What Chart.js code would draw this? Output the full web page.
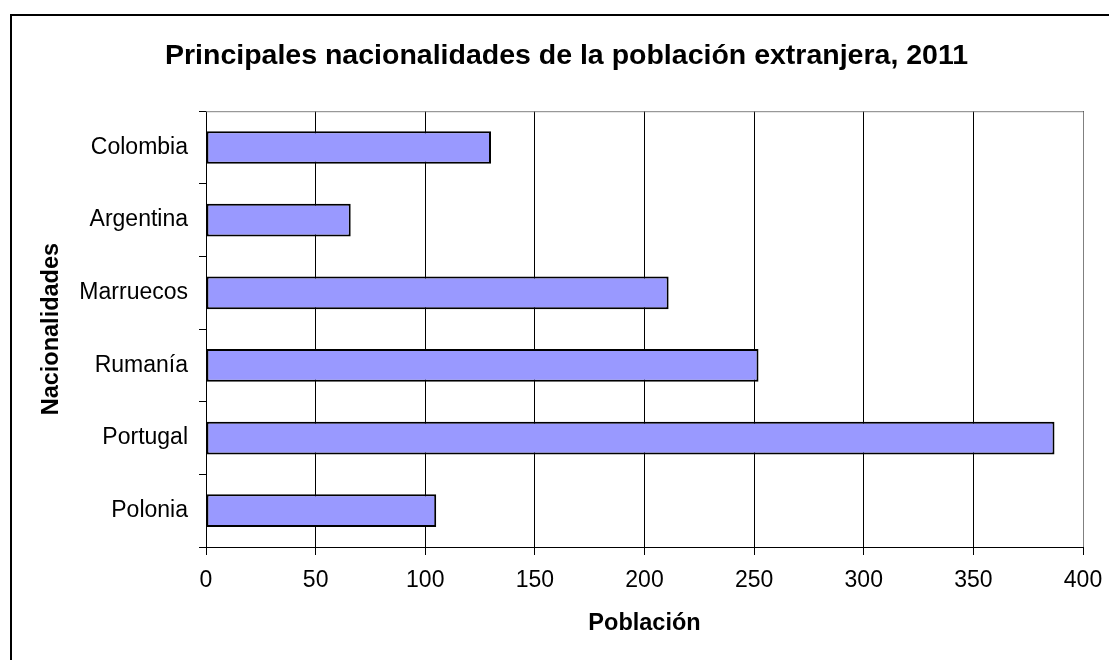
<!DOCTYPE html>
<html>
<head>
<meta charset="utf-8">
<script src="https://cdn.jsdelivr.net/npm/chart.js@4.4.1/dist/chart.umd.min.js"></script>
<style>
  html, body { margin: 0; padding: 0; background: #fff; }
  canvas { display: block; }
</style>
</head>
<body>
<canvas id="chart" width="1109" height="660"></canvas>
<script>
// data, top bar first
const nacionalidades = ['Colombia', 'Argentina', 'Marruecos', 'Rumanía', 'Portugal', 'Polonia'];
const poblacion = [130, 66, 211, 252, 387, 105];
const xMin = 0;
const xMax = 400;
const xStep = 50;
const titulo = 'Principales nacionalidades de la población extranjera, 2011';
const tituloX = 'Población';
const tituloY = 'Nacionalidades';

const FONT = "'Liberation Sans', Arial, sans-serif";

// outer chart frame + grey top/right edge of plot area
const frame = {
  id: 'frame',
  beforeDraw(chart) {
    const c = chart.ctx;
    c.save();
    c.fillStyle = '#fff';
    c.fillRect(0, 0, chart.width, chart.height);
    c.strokeStyle = '#000';
    c.lineWidth = 2;
    c.strokeRect(11, 15, chart.width + 20, chart.height + 20);
    c.restore();
  },
  beforeDatasetsDraw(chart) {
    const {ctx: c, chartArea: a} = chart;
    c.save();
    c.strokeStyle = '#808080';
    c.lineWidth = 1;
    c.beginPath();
    c.moveTo(a.left, a.top + 0.5);
    c.lineTo(a.right + 0.5, a.top + 0.5);
    c.lineTo(a.right + 0.5, a.bottom);
    c.stroke();
    c.restore();
  }
};

const chart = new Chart(document.getElementById('chart').getContext('2d'), {
  type: 'bar',
  data: {
    labels: nacionalidades,
    datasets: [{
      label: tituloX,
      data: poblacion,
      backgroundColor: '#9999FF',
      borderColor: '#000',
      borderWidth: 2,
      borderSkipped: false,
      barPercentage: 1,
      categoryPercentage: 0.45,
    }],
  },
  options: {
    responsive: false,
    animation: false,
    indexAxis: 'y',
    layout: { padding: { left: 24, right: 0, top: 0, bottom: 0 } },
    plugins: {
      legend: { display: false },
      tooltip: { enabled: false },
      title: {
        display: true,
        text: titulo,
        color: '#000',
        font: { family: FONT, size: 28.5, weight: 'bold' },
        padding: { top: 39, bottom: 38 },
      },
    },
    scales: {
      x: {
        min: xMin,
        max: xMax,
        ticks: { stepSize: xStep, color: '#000', font: { family: FONT, size: 23 }, padding: 12 },
        grid: { color: '#000', lineWidth: 1, tickLength: 8 },
        border: { color: '#000', width: 1 },
        title: {
          display: true,
          text: tituloX,
          color: '#000',
          font: { family: FONT, size: 23.5, weight: 'bold' },
          padding: { top: 0, bottom: 22 },
        },
        afterFit(s) { s.height = 113; s.paddingRight = 26; },
      },
      y: {
        grid: { offset: true, drawOnChartArea: false, tickLength: 7, color: '#000' },
        border: { color: '#000', width: 1 },
        ticks: { color: '#000', font: { family: FONT, size: 23 }, padding: 11 },
        title: {
          display: true,
          text: tituloY,
          color: '#000',
          font: { family: FONT, size: 23.5, weight: 'bold' },
          padding: { top: 13, bottom: 0 },
        },
        afterFit(s) { s.width = 182; },
      },
    },
  },
  plugins: [frame],
});
</script>
</body>
</html>
